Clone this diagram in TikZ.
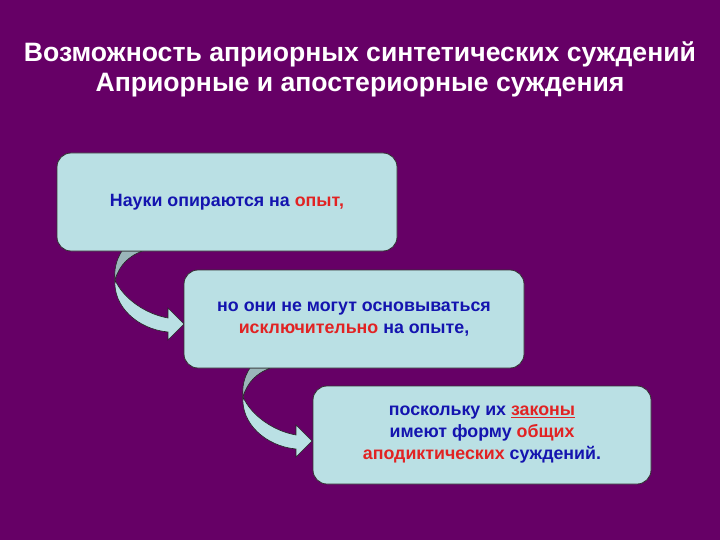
\documentclass[tikz,border=0pt]{standalone}
\usepackage{fontspec}
\setmainfont{Liberation Sans}
\definecolor{bgpurple}{RGB}{102,0,102}
\definecolor{boxfill}{RGB}{186,224,228}
\definecolor{backfill}{RGB}{155,182,186}
\definecolor{txtblue}{RGB}{20,20,175}
\definecolor{txtred}{RGB}{225,35,35}
\tikzset{
  stagebox/.style={draw=black!80, line width=0.8pt, fill=boxfill, rounded corners=14pt,
    minimum width=340pt, minimum height=98pt, align=center, inner sep=0pt,
    font=\fontsize{17.8}{22}\selectfont\bfseries, text=txtblue},
  titletext/.style={font=\fontsize{26.6}{30}\selectfont\bfseries, text=white},
  arrowfront/.style={draw=black!85, line width=0.6pt, fill=boxfill},
  arrowback/.style={draw=black!85, line width=0.6pt, fill=backfill},
}
\newcommand{\rd}[1]{\textcolor{txtred}{#1}}
\newcommand{\curvedarrow}{%
  \path[arrowfront] (58,29) .. controls (56,55) and (80,78) .. (111,81)
    -- (111,89) -- (127,73) -- (111,57) -- (111,67)
    .. controls (88,63) and (66,47) .. (58,29) -- cycle;
  \path[arrowback] (65,0) .. controls (59,9) and (57,19) .. (58,29)
    .. controls (62,14) and (73,4) .. (86,0) -- cycle;
}
\begin{document}
\begin{tikzpicture}[x=1pt,y=-1pt]
\fill[bgpurple] (0,0) rectangle (720,540);
\useasboundingbox (0,0) rectangle (720,540);
\node[titletext] (t1) at (360,54) {Возможность априорных синтетических суждений};
\node[titletext] (t2) at (360,85) {Априорные и апостериорные суждения};
\begin{scope}[shift={(57,251)}]\curvedarrow\end{scope}
\begin{scope}[shift={(185,368)}]\curvedarrow\end{scope}
\node[stagebox] (b1) at (227,202) {Науки опираются на \rd{опыт,}};
\node[stagebox] (b2) at (354,319) {но они не могут основываться\\\rd{исключительно} на опыте,};
\node[stagebox, minimum width=338pt] (b3) at (482,435) {поскольку их \rd{\underline{законы}}\\имеют форму \rd{общих}\\\rd{аподиктических} суждений.};
\end{tikzpicture}
\end{document}
